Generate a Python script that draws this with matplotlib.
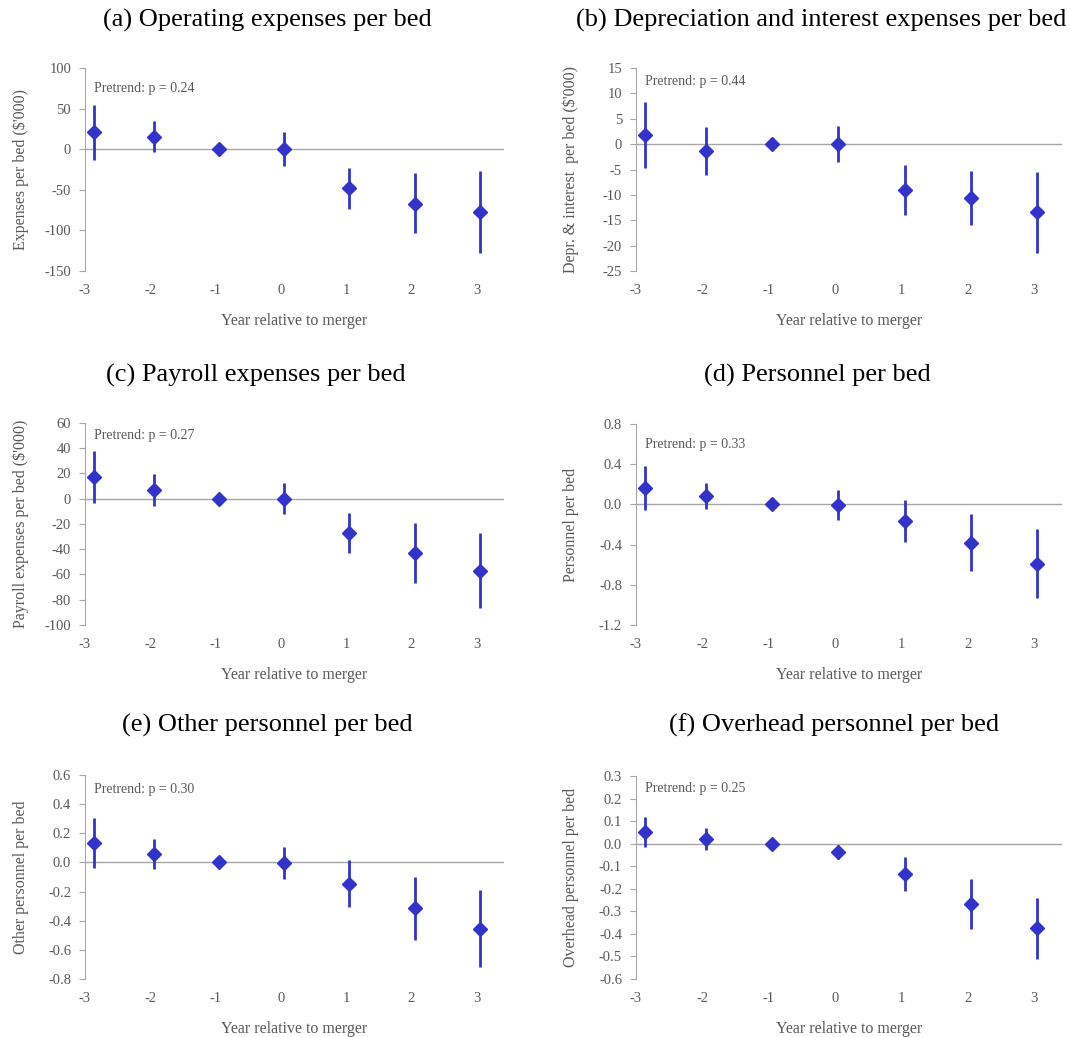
import matplotlib
matplotlib.use("Agg")
import matplotlib.pyplot as plt
import numpy as np

# ── Data (event-study coefficients with 95% CI) ─────────────────────────────
years = [-3, -2, -1, 0, 1, 2, 3]
# plotted x position of each estimate (slightly offset from category ticks)
x_pos = [-2.86, -1.95, -0.95, 0.05, 1.05, 2.05, 3.05]

opex_est = [20.6, 15.6, 0.0, 0.0, -48.2, -67.1, -77.4]
opex_lo  = [-13.2, -2.9, None, -20.6, -73.3, -103.8, -127.7]
opex_hi  = [54.8, 35.0, None, 20.6, -23.0, -29.7, -26.4]

depr_est = [1.78, -1.38, 0.0, 0.0, -9.08, -10.53, -13.42]
depr_lo  = [-4.74, -6.05, None, -3.55, -13.95, -15.86, -21.45]
depr_hi  = [8.36, 3.36, None, 3.49, -4.08, -5.26, -5.46]

pay_est = [16.9, 6.6, 0.0, 0.0, -27.0, -42.9, -57.1]
pay_lo  = [-3.4, -5.8, None, -12.2, -43.1, -66.4, -86.8]
pay_hi  = [37.6, 19.3, None, 12.2, -11.1, -19.0, -27.2]

pers_est = [0.162, 0.083, 0.0, -0.010, -0.169, -0.383, -0.592]
pers_lo  = [-0.056, -0.043, None, -0.155, -0.374, -0.664, -0.929]
pers_hi  = [0.380, 0.210, None, 0.142, 0.043, -0.099, -0.241]

oth_est = [0.133, 0.057, 0.0, -0.007, -0.151, -0.314, -0.454]
oth_lo  = [-0.039, -0.044, None, -0.117, -0.307, -0.529, -0.717]
oth_hi  = [0.302, 0.163, None, 0.105, 0.014, -0.099, -0.190]

ovh_est = [0.052, 0.019, 0.0, -0.035, -0.134, -0.269, -0.375]
ovh_lo  = [-0.013, -0.028, None, -0.069, -0.208, -0.377, -0.510]
ovh_hi  = [0.117, 0.068, None, -0.004, -0.059, -0.157, -0.241]

titles = ['(a) Operating expenses per bed',
          '(b) Depreciation and interest expenses per bed',
          '(c) Payroll expenses per bed',
          '(d) Personnel per bed',
          '(e) Other personnel per bed',
          '(f) Overhead personnel per bed']
ylabels = ["Expenses per bed ($'000)",
           "Depr. & interest  per bed ($'000)",
           "Payroll expenses per bed ($'000)",
           "Personnel per bed",
           "Other personnel per bed",
           "Overhead personnel per bed"]
pvals = ['0.24', '0.44', '0.27', '0.33', '0.30', '0.25']
yticks = [np.arange(-150, 101, 50),
          np.arange(-25, 16, 5),
          np.arange(-100, 61, 20),
          np.arange(-1.2, 0.81, 0.4),
          np.arange(-0.8, 0.61, 0.2),
          np.arange(-0.6, 0.31, 0.1)]
yfmt = ['{:.0f}', '{:.0f}', '{:.0f}', '{:.1f}', '{:.1f}', '{:.1f}']

series = [(opex_est, opex_lo, opex_hi), (depr_est, depr_lo, depr_hi),
          (pay_est, pay_lo, pay_hi), (pers_est, pers_lo, pers_hi),
          (oth_est, oth_lo, oth_hi), (ovh_est, ovh_lo, ovh_hi)]

# ── Style ───────────────────────────────────────────────────────────────────
plt.rcParams.update({
    'font.family': 'Liberation Serif',
    'font.size': 10.5,
})
C_PT   = '#3333CC'
C_GRAY = '#595959'
C_AX   = '#A6A6A6'

fig = plt.figure(figsize=(10.7, 10.37), dpi=100)
W, H = 1070, 1037

# axes boxes in pixels: (left, top, right, bottom)
boxes = [(85, 68, 504, 271), (636, 68, 1062, 271),
         (85, 423, 504, 625), (636, 424, 1062, 625),
         (85, 775, 504, 979), (636, 776, 1062, 979)]
title_pos = [(267, 20), (821, 20), (256, 375), (817, 375), (267, 725), (834, 725)]
ptxt_y = [0.90, 0.934, 0.94, 0.90, 0.927, 0.94]


def fmt_tick(v, f):
    s = f.format(v)
    return s[1:] if s.startswith('-') and float(s) == 0 else s


for i, (l, t, r, b) in enumerate(boxes):
    ax = fig.add_axes([l / W, 1 - b / H, (r - l) / W, (b - t) / H])
    est, lo, hi = series[i]

    for xp, e, a, z in zip(x_pos, est, lo, hi):
        if a is not None:
            ax.plot([xp, xp], [a, z], color=C_PT, lw=2, solid_capstyle='butt', zorder=3)
    ax.plot(x_pos, est, 'D', color=C_PT, ms=7, ls='none', zorder=4)
    ax.axhline(0, color=C_AX, lw=1, zorder=1)

    ax.set_xlim(-3, 3.42)
    ax.set_ylim(yticks[i][0], yticks[i][-1])
    ax.set_yticks(yticks[i])
    ax.set_yticklabels([fmt_tick(v, yfmt[i]) for v in yticks[i]])
    ax.set_xticks(years)
    ax.set_xticklabels([str(y) for y in years])

    for s in ['top', 'right', 'bottom']:
        ax.spines[s].set_visible(False)
    ax.spines['left'].set_color(C_AX)
    ax.tick_params(axis='y', colors=C_AX, labelcolor=C_GRAY, direction='out', length=4, pad=6)
    ax.tick_params(axis='x', length=0, labelcolor=C_GRAY, pad=9)

    ax.set_xlabel('Year relative to merger', color=C_GRAY, fontsize=11.5, labelpad=12)
    ax.set_ylabel(ylabels[i], color=C_GRAY, fontsize=11.5)
    ax.yaxis.set_label_coords(-0.133, 0.5)
    ax.text(0.021, ptxt_y[i], 'Pretrend: p = ' + pvals[i], transform=ax.transAxes,
            color=C_GRAY, fontsize=10, ha='left', va='center')

    tx, ty = title_pos[i]
    fig.text(tx / W, 1 - ty / H, titles[i], fontsize=19, ha='center', va='center')

fig.savefig('out.png', dpi=100)
